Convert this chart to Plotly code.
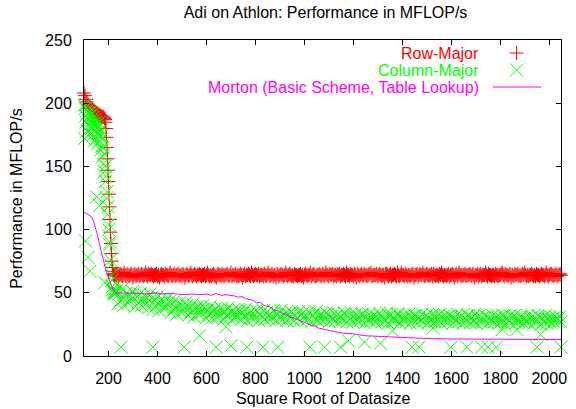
import plotly.graph_objects as go

# ---- Row-Major: steep start region, then the flat plateau ----
row_left_x = [100, 104, 108, 112, 116, 120, 124, 128, 132, 136, 140, 144, 148, 152, 156, 160,
              164, 168, 172, 176, 180, 184, 186, 188, 190, 192, 194, 196, 198, 200, 202, 204,
              206, 208, 210, 212, 214, 216, 218, 220, 222, 224, 226, 228]
row_left_y = [208, 206, 203, 201, 199, 198, 197, 196, 195, 195, 194, 193, 193, 192, 192, 191,
              191, 190, 190, 189, 189, 188, 187, 185, 180, 173, 165, 156, 147, 138, 128, 118,
              108, 98, 89, 81, 75, 70, 67, 65, 64, 64, 65, 64]
row_flat_x = list(range(232, 2049, 4))
row_flat_y = [64, 65, 63, 64, 65, 64, 63, 64, 66, 64, 63, 65,
              64, 63, 64, 65, 64, 62, 64, 65, 63, 64, 64, 65,
              63, 64, 65, 64, 63, 64, 66, 64, 63, 65, 64, 64,
              65, 64, 63, 64, 64, 65, 63, 64, 62, 64, 65, 64,
              64, 63, 65, 64, 64, 63, 64, 66, 64, 63, 64, 65,
              63, 64, 64, 65, 63, 64, 64, 63, 65, 64, 62, 64,
              65, 64, 63, 64, 66, 64, 63, 64, 65, 64, 63, 64,
              64, 65, 64, 63, 64, 64, 65, 63, 64, 66, 64, 63,
              64, 63, 64, 65, 64, 63, 62, 64, 65, 64, 64, 63,
              65, 64, 63, 64, 64, 65, 64, 63, 64, 66, 63, 64,
              64, 64, 65, 63, 64, 63, 64, 65, 64, 62, 64, 65,
              63, 64, 64, 65, 64, 63, 66, 64, 63, 64, 65, 64,
              64, 65, 63, 64, 64, 64, 63, 65, 64, 63, 64, 66,
              64, 63, 64, 65, 63, 64, 64, 62, 65, 64, 63, 64,
              65, 64, 64, 63, 64, 66, 64, 63, 64, 65, 64, 63,
              64, 63, 65, 64, 64, 63, 64, 64, 65, 63, 64, 62,
              64, 65, 64, 63, 64, 64, 66, 63, 64, 65, 64, 63,
              63, 64, 64, 65, 64, 63, 64, 65, 63, 64, 66, 64,
              64, 63, 65, 64, 64, 65, 63, 64, 64, 63, 65, 64,
              65, 63, 64, 64, 65, 64, 63, 66, 64, 64, 63, 65,
              64, 64, 63, 65, 64, 62, 65, 64, 63, 64, 65, 64,
              63, 65, 64, 64, 63, 64, 65, 64, 66, 63, 64, 64,
              64, 64, 65, 63, 64, 65, 64, 63, 64, 64, 62, 65,
              65, 64, 63, 64, 65, 63, 64, 64, 65, 64, 63, 66,
              64, 63, 64, 66, 64, 64, 63, 65, 64, 63, 64, 64,
              63, 64, 65, 64, 62, 64, 64, 65, 63, 64, 65, 64,
              64, 66, 64, 63, 64, 65, 64, 63, 64, 64, 65, 63,
              65, 64, 63, 64, 64, 63, 65, 64, 66, 64, 63, 64,
              64, 63, 64, 65, 63, 64, 64, 65, 64, 62, 64, 65,
              63, 64, 66, 64, 64, 63, 64, 64, 65, 63, 64, 64,
              64, 65, 64, 63, 65, 64, 62, 64, 64, 65, 63, 64,
              65, 63, 64, 64, 64, 66, 64, 63, 65, 64, 64, 63,
              64, 64, 63, 65, 64, 64, 63, 64, 64, 65, 66, 64,
              63, 65, 64, 64, 63, 64, 65, 62, 64, 64, 63, 65,
              64, 64, 65, 63, 64, 63, 64, 65, 64, 66, 64, 63,
              64, 63, 64, 64, 65, 64, 63, 64, 63, 65, 64, 64,
              63, 64, 65, 64, 64, 63, 64, 66, 64, 63, 64, 65,
              65, 64, 63, 64, 64, 65, 63, 64, 64, 65, 64]

# ---- Column-Major ----
col_left_x = list(range(100, 229, 2))
col_left_y = [198, 172, 196, 190, 185, 199, 178, 192, 188, 195,
              183, 190, 176, 193, 186, 180, 191, 184, 175, 189,
              182, 170, 187, 179, 185, 172, 183, 176, 168, 181,
              175, 185, 170, 178, 163, 174, 166, 172, 158, 165,
              152, 160, 146, 150, 138, 142, 125, 130, 112, 118,
              100, 104, 88, 90, 76, 72, 64, 60, 55, 53,
              52, 50, 51, 49, 50]
col_flat_x = list(range(232, 2045, 6))
col_flat_y = [52, 41, 49, 44, 53, 40, 47, 50, 42, 48, 45, 51,
              50, 39, 47, 42, 49, 40, 45, 48, 41, 46, 38, 49,
              46, 37, 44, 40, 47, 36, 42, 45, 38, 43, 39, 46,
              43, 34, 41, 37, 44, 33, 39, 42, 35, 40, 36, 42,
              40, 32, 38, 35, 41, 31, 37, 39, 33, 38, 34, 40,
              38, 30, 36, 33, 39, 30, 35, 37, 31, 36, 32, 38,
              37, 29, 35, 32, 38, 30, 34, 36, 30, 35, 31, 37,
              36, 29, 34, 31, 37, 28, 33, 35, 30, 34, 30, 36,
              35, 28, 33, 31, 36, 29, 34, 35, 29, 33, 30, 36,
              35, 28, 33, 30, 36, 29, 32, 34, 28, 33, 30, 35,
              34, 28, 32, 30, 35, 28, 33, 34, 29, 32, 29, 35,
              34, 27, 32, 30, 35, 28, 31, 33, 28, 32, 29, 34,
              33, 27, 31, 29, 34, 28, 32, 33, 27, 31, 29, 34,
              33, 27, 31, 29, 34, 27, 30, 33, 28, 31, 28, 33,
              33, 26, 31, 29, 33, 27, 30, 32, 27, 31, 28, 34,
              32, 27, 30, 28, 34, 26, 31, 33, 27, 30, 28, 33,
              33, 26, 31, 29, 32, 27, 30, 33, 26, 31, 28, 32,
              32, 26, 30, 28, 33, 27, 31, 32, 26, 30, 28, 33,
              32, 27, 31, 28, 33, 26, 30, 32, 27, 31, 27, 32,
              31, 26, 30, 28, 33, 27, 31, 32, 26, 30, 28, 32,
              32, 26, 30, 27, 33, 26, 31, 32, 27, 30, 27, 32,
              31, 26, 30, 28, 32, 27, 30, 31, 26, 31, 27, 32,
              32, 25, 30, 28, 32, 26, 31, 32, 26, 29, 27, 31,
              31, 26, 30, 27, 32, 26, 30, 31, 26, 30, 27, 32,
              31, 25, 30, 27, 32, 26, 29, 31, 26, 30, 27, 31,
              30, 27, 31]
col_out_x = [106, 116, 124, 152, 164, 185, 251, 381, 509, 572, 640, 679, 700, 765, 831, 891,
             1023, 1082, 1148, 1180, 1245, 1310, 1360, 1440, 1468, 1525, 1598, 1663, 1724,
             1751, 1784, 1808, 1868, 1950, 1965, 2048, 2048]
col_out_y = [91, 78, 67, 126, 119, 58, 7, 7, 7, 16, 7, 23, 8, 7, 7, 7,
             7, 7, 7, 12, 11, 10, 20, 7, 7, 22, 7, 7, 7,
             7, 7, 21, 21, 7, 17, 27, 7]

# ---- Morton (basic scheme, table lookup) ----
mort_x = [100, 108, 116, 124, 132, 140, 148, 156, 164, 172,
          180, 188, 196, 204, 212, 220, 228, 240, 260, 280,
          300, 330, 360, 390, 420, 450, 480, 510, 540, 570,
          600, 620, 640, 660, 680, 700, 715, 730, 745, 760,
          775, 790, 805, 820, 835, 850, 865, 880, 895, 910,
          925, 940, 955, 970, 985, 1000, 1015, 1030, 1045, 1060,
          1080, 1100, 1130, 1160, 1200, 1250, 1300, 1350, 1400, 1450,
          1500, 1600, 1700, 1800, 1900, 2000, 2048]
mort_y = [114, 113, 112, 111, 110, 106, 101, 95, 88, 81,
          75, 69, 64, 60, 55, 52, 50, 50, 50, 49.5,
          50, 49.5, 49, 50, 49, 49.5, 49, 48.5, 49, 48.5,
          49, 48, 49.5, 48, 48.5, 48, 47.5, 46.5, 47, 45.5,
          44.5, 44, 42, 42.5, 40, 39, 38.5, 36, 35.5, 33.5,
          33, 31, 30, 28.5, 28, 26.5, 25.5, 24, 23.5, 22,
          21, 20, 19, 18, 17.5, 16, 15.5, 15, 14.5, 14,
          13.8, 13.5, 13.3, 13.2, 13.1, 13, 13]

x_ticks = list(range(200, 2001, 200))
y_ticks = [0, 50, 100, 150, 200, 250]

RED, GREEN, MAGENTA = "#ff0000", "#00ff00", "#ff00ff"
FONT = "Liberation Sans, Arial, sans-serif"

W, H = 576, 409
L, R, T, B = 84, 9, 40, 53
PW, PH = W - L - R, H - T - B

fig = go.Figure()
fig.add_trace(go.Scatter(
    x=row_left_x + row_flat_x, y=row_left_y + row_flat_y, mode="markers",
    marker=dict(symbol="cross-thin", size=10, line=dict(color=RED, width=1), color=RED),
    cliponaxis=False, name="Row-Major", showlegend=False))
fig.add_trace(go.Scatter(
    x=col_left_x + col_flat_x + col_out_x, y=col_left_y + col_flat_y + col_out_y, mode="markers",
    marker=dict(symbol="x-thin", size=13, line=dict(color=GREEN, width=1), color=GREEN),
    cliponaxis=False, name="Column-Major", showlegend=False))
fig.add_trace(go.Scatter(
    x=mort_x, y=mort_y, mode="lines", line=dict(color=MAGENTA, width=1),
    name="Morton (Basic Scheme, Table Lookup)", showlegend=False))

# key samples on an overlay axis measured in plot pixels
key_y = [PH - 13, PH - 30, PH - 47]
fig.add_trace(go.Scatter(x=[438], y=[key_y[0]], xaxis="x2", yaxis="y2", mode="markers",
                         marker=dict(symbol="cross-thin", size=10, line=dict(color=RED, width=1)),
                         showlegend=False, hoverinfo="skip"))
fig.add_trace(go.Scatter(x=[438], y=[key_y[1]], xaxis="x2", yaxis="y2", mode="markers",
                         marker=dict(symbol="x-thin", size=13, line=dict(color=GREEN, width=1)),
                         showlegend=False, hoverinfo="skip"))
fig.add_trace(go.Scatter(x=[414, 463], y=[key_y[2], key_y[2]], xaxis="x2", yaxis="y2", mode="lines",
                         line=dict(color=MAGENTA, width=1), showlegend=False, hoverinfo="skip"))

annotations = []
for text, color, ky in [("Row-Major", RED, key_y[0]), ("Column-Major", GREEN, key_y[1]),
                        ("Morton (Basic Scheme, Table Lookup)", MAGENTA, key_y[2])]:
    annotations.append(dict(text=text, x=402, y=ky, xref="x2", yref="y2", xanchor="right",
                            yanchor="middle", showarrow=False, font=dict(color=color, size=16, family=FONT)))
annotations.append(dict(text="Square Root of Datasize", x=0.5, y=-(398 - 356) / PH, xref="paper", yref="paper",
                        xanchor="center", yanchor="middle", showarrow=False,
                        font=dict(size=16, family=FONT, color="black")))
annotations.append(dict(text="Performance in MFLOP/s", x=-(84 - 15) / PW, y=0.5, xref="paper", yref="paper",
                        xanchor="center", yanchor="middle", textangle=-90, showarrow=False,
                        font=dict(size=16, family=FONT, color="black")))

axis_common = dict(showline=True, linecolor="black", linewidth=1, mirror="allticks", ticks="inside",
                   ticklen=5, tickcolor="black", tickwidth=1, showgrid=False, zeroline=False,
                   tickfont=dict(size=16, family=FONT, color="black"))

fig.update_layout(
    width=W, height=H, margin=dict(l=L, r=R, t=T, b=B),
    paper_bgcolor="white", plot_bgcolor="white",
    title=dict(text="Adi on Athlon: Performance in MFLOP/s", x=0.5 * (L + W - R) / W, xanchor="center",
               y=1 - 12 / H, yanchor="middle", font=dict(size=16, family=FONT, color="black")),
    xaxis=dict(range=[100, 2048], tickvals=x_ticks, ticklabelstandoff=8, **axis_common),
    yaxis=dict(range=[0, 250], tickvals=y_ticks, ticklabelstandoff=8, **axis_common),
    xaxis2=dict(range=[0, PW], overlaying="x", visible=False, fixedrange=True),
    yaxis2=dict(range=[0, PH], overlaying="y", visible=False, fixedrange=True),
    annotations=annotations,
    showlegend=False,
)

fig.write_html("out.html")
